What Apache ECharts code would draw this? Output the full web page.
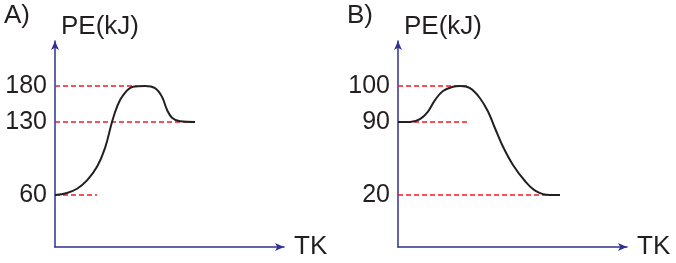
<!DOCTYPE html>
<html>
<head>
<meta charset="utf-8">
<script src="https://cdn.jsdelivr.net/npm/echarts@6/dist/echarts.min.js"></script>
<style>
  html, body { margin: 0; padding: 0; background: #fff; }
  #chart { width: 676px; height: 263px; }
</style>
</head>
<body>
<div id="chart"></div>
<script>
// energy levels marked on each PE axis (kJ)
const levelsA = [60, 130, 180];
const levelsB = [20, 90, 100];

// reaction progress (arbitrary units along TK) and PE (kJ)
const progressA = [0, 12, 22, 32, 42, 50, 57, 62, 68, 78, 90, 100, 107, 112, 117, 125, 140];
const energyA = [60, 62, 66, 74, 87, 105, 130, 151, 167, 179, 180, 177, 165, 147, 136, 131, 130];
const progressB = [0, 12, 22, 30, 37, 45, 55, 62, 72, 82, 90, 97, 105, 115, 127, 138, 152, 162];
const energyB = [90, 90, 90.8, 92.9, 96.1, 98.6, 99.8, 100, 99.4, 96.6, 92.9, 84, 66.3, 48.8, 33.4, 23.8, 20, 20];

// where each red dashed guide stops (progress units), same order as levels
const guideEndsA = [42, 140, 82];
const guideEndsB = [162, 71, 71];

// the PE axis is schematic (not to scale): each level sits on a fixed rung
const rungs = [52, 125, 161];
const axisTop = 206;

function toAxis(v, levels) {
  const pts = [[0, 0]].concat(levels.map((l, i) => [l, rungs[i]]));
  for (let i = 1; i < pts.length; i++) {
    if (v <= pts[i][0] || i === pts.length - 1) {
      const [x0, y0] = pts[i - 1], [x1, y1] = pts[i];
      return y0 + (v - x0) * (y1 - y0) / (x1 - x0);
    }
  }
}

const blue = '#2e3192';
const ink = '#231f20';
const red = '#ed1c24';
const font = 'Liberation Sans, Arial, sans-serif';

function axes(idx, levels) {
  return {
    x: {
      type: 'value', gridIndex: idx, min: 0, max: 229,
      name: 'TK', nameLocation: 'end', nameGap: 10,
      nameTextStyle: { color: ink, fontSize: 26, fontFamily: font, verticalAlign: 'middle' },
      axisLine: { onZero: false, symbol: ['none', 'arrow'], symbolSize: [6, 9], lineStyle: { color: blue, width: 1.5 } },
      axisTick: { show: false }, axisLabel: { show: false }, splitLine: { show: false }
    },
    y: {
      type: 'value', gridIndex: idx, min: 0, max: axisTop,
      name: 'PE(kJ)', nameLocation: 'end', nameGap: 14,
      nameTextStyle: { color: ink, fontSize: 26, fontFamily: font, align: 'left', verticalAlign: 'middle', padding: [0, 0, 0, 6] },
      axisLine: { onZero: false, symbol: ['none', 'arrow'], symbolSize: [6, 9], lineStyle: { color: blue, width: 1.5 } },
      axisTick: { show: false }, splitLine: { show: false },
      axisLabel: {
        customValues: rungs, margin: 8, color: ink, fontSize: 25, fontFamily: font,
        formatter: v => String(levels[rungs.indexOf(v)])
      }
    }
  };
}

function seriesFor(idx, levels, progress, energy, ends) {
  const out = levels.map((l, i) => ({
    type: 'line', xAxisIndex: idx, yAxisIndex: idx, symbol: 'none', z: 1,
    lineStyle: { color: red, width: 1.5, type: [5, 3] },
    data: [[0, toAxis(l, levels)], [ends[i], toAxis(l, levels)]]
  }));
  out.push({
    type: 'line', xAxisIndex: idx, yAxisIndex: idx, symbol: 'none', smooth: 0.4, z: 3,
    lineStyle: { color: ink, width: 2 },
    data: progress.map((p, i) => [p, toAxis(energy[i], levels)])
  });
  return out;
}

const a = axes(0, levelsA), b = axes(1, levelsB);
const chart = echarts.init(document.getElementById('chart'));
chart.setOption({
  animation: false,
  grid: [
    { left: 55, top: 41, width: 229, height: 206 },
    { left: 398, top: 41, width: 229, height: 206 }
  ],
  xAxis: [a.x, b.x],
  yAxis: [a.y, b.y],
  graphic: [
    { type: 'text', left: 4, top: 3, style: { text: 'A)', fill: ink, font: '26px ' + font } },
    { type: 'text', left: 347, top: 3, style: { text: 'B)', fill: ink, font: '26px ' + font } }
  ],
  series: seriesFor(0, levelsA, progressA, energyA, guideEndsA)
    .concat(seriesFor(1, levelsB, progressB, energyB, guideEndsB))
});
</script>
</body>
</html>
